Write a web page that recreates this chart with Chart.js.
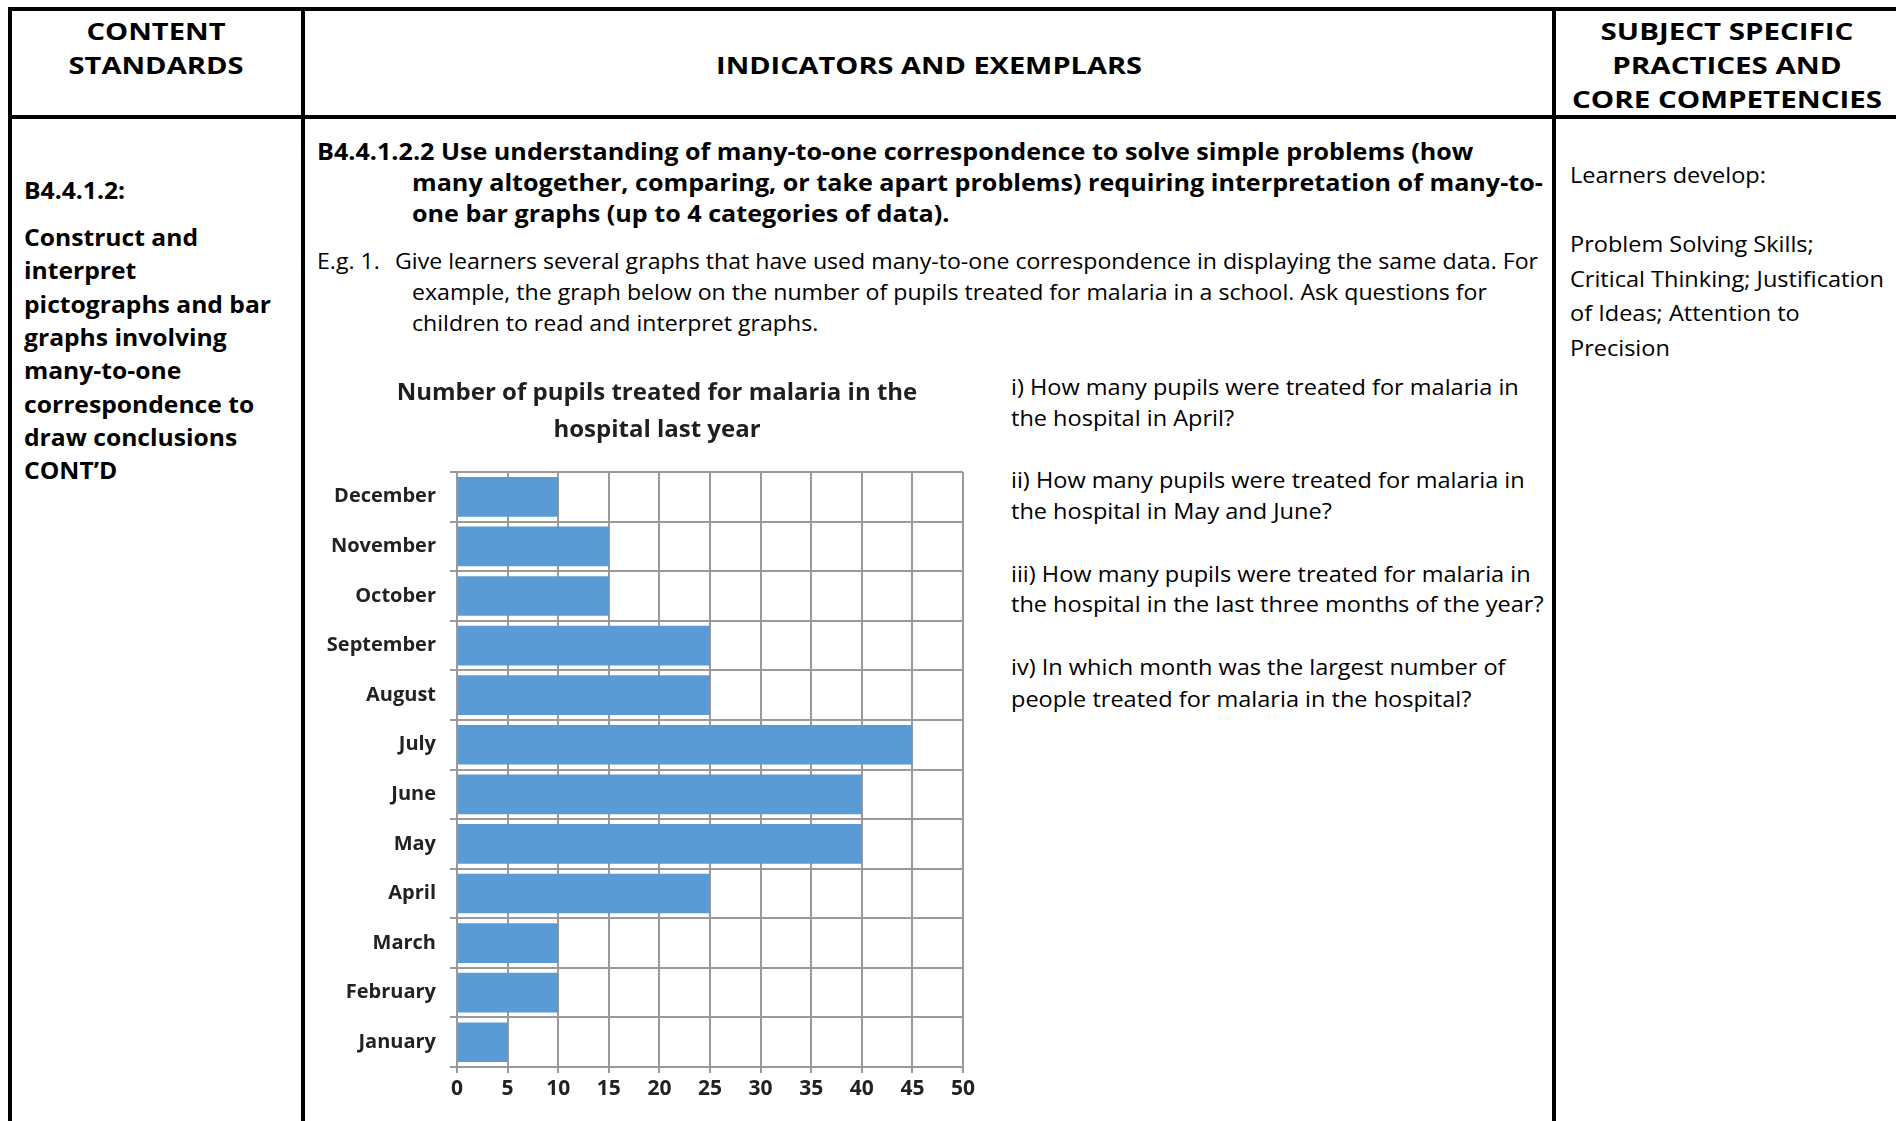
<!DOCTYPE html>
<html>
<head>
<meta charset="utf-8">
<script src="https://cdn.jsdelivr.net/npm/chart.js@4.4.1/dist/chart.umd.min.js"></script>
<style>
  body { margin: 0; width: 1896px; height: 1121px; overflow: hidden; background: #fff; position: relative; font-family: 'Open Sans', sans-serif; color: #000; }
  .rule { position: absolute; background: #000; }
  .txt { position: absolute; white-space: nowrap; line-height: 30px; height: 30px; }
  #chartBox { position: absolute; left: 315px; top: 360px; width: 684px; height: 750px; }
</style>
</head>
<body>
<div class="rule" style="left:8px;top:7px;width:1888px;height:4px"></div>
<div class="rule" style="left:8px;top:115px;width:1888px;height:4px"></div>
<div class="rule" style="left:8px;top:7px;width:4px;height:1114px"></div>
<div class="rule" style="left:301px;top:7px;width:4px;height:1114px"></div>
<div class="rule" style="left:1552px;top:7px;width:4px;height:1114px"></div>

<div id="chartBox"><canvas id="malaria"></canvas></div>

<script>
// Chart data
const months = ['January', 'February', 'March', 'April', 'May', 'June',
                'July', 'August', 'September', 'October', 'November', 'December'];
const pupilsTreated = [5, 10, 10, 25, 40, 40, 45, 25, 25, 15, 15, 10];
const chartTitle = ['Number of pupils treated for malaria in the', 'hospital last year'];
const xMin = 0;
const xMax = 50;
const xStep = 5;

// Page text: [group, weight, align, x, y, text, reference width]
const TEXT = [
  ['h1', 'b', 'c', 156, 31, 'CONTENT'],
  ['h1', 'b', 'c', 156, 65, 'STANDARDS', 175],
  ['h2', 'b', 'c', 929, 65, 'INDICATORS AND EXEMPLARS', 426],
  ['h3', 'b', 'c', 1727, 31, 'SUBJECT SPECIFIC'],
  ['h3', 'b', 'c', 1727, 65, 'PRACTICES AND'],
  ['h3', 'b', 'c', 1727, 99, 'CORE COMPETENCIES', 310],

  ['c1', 'b', 'l', 24, 190, 'B4.4.1.2:'],
  ['c1', 'b', 'l', 24, 237, 'Construct and'],
  ['c1', 'b', 'l', 24, 270, 'interpret'],
  ['c1', 'b', 'l', 24, 304, 'pictographs and bar', 247],
  ['c1', 'b', 'l', 24, 337, 'graphs involving'],
  ['c1', 'b', 'l', 24, 370, 'many-to-one'],
  ['c1', 'b', 'l', 24, 404, 'correspondence to'],
  ['c1', 'b', 'l', 24, 437, 'draw conclusions'],
  ['c1', 'b', 'l', 24, 470, 'CONT\u2019D'],

  ['hd', 'b', 'l', 317, 151, 'B4.4.1.2.2 Use understanding of many-to-one correspondence to solve simple problems (how', 1156],
  ['hd', 'b', 'l', 412, 182, 'many altogether, comparing, or take apart problems) requiring interpretation of many-to-'],
  ['hd', 'b', 'l', 412, 213, 'one bar graphs (up to 4 categories of data).'],

  ['eg', 'r', 'l', 317, 260, 'E.g. 1.'],
  ['eg', 'r', 'l', 395, 260, 'Give learners several graphs that have used many-to-one correspondence in displaying the same data. For', 1143],
  ['eg', 'r', 'l', 412, 291, 'example, the graph below on the number of pupils treated for malaria in a school. Ask questions for'],
  ['eg', 'r', 'l', 412, 322, 'children to read and interpret graphs.'],

  ['q', 'r', 'l', 1011, 386, 'i) How many pupils were treated for malaria in', 508],
  ['q', 'r', 'l', 1011, 417, 'the hospital in April?'],
  ['q', 'r', 'l', 1011, 479, 'ii) How many pupils were treated for malaria in'],
  ['q', 'r', 'l', 1011, 510, 'the hospital in May and June?'],
  ['q', 'r', 'l', 1011, 573, 'iii) How many pupils were treated for malaria in'],
  ['q', 'r', 'l', 1011, 603, 'the hospital in the last three months of the year?'],
  ['q', 'r', 'l', 1011, 666, 'iv) In which month was the largest number of'],
  ['q', 'r', 'l', 1011, 698, 'people treated for malaria in the hospital?'],

  ['c3', 'r', 'l', 1570, 174, 'Learners develop:'],
  ['c3', 'r', 'l', 1570, 243, 'Problem Solving Skills;'],
  ['c3', 'r', 'l', 1570, 278, 'Critical Thinking; Justification', 314],
  ['c3', 'r', 'l', 1570, 312, 'of Ideas; Attention to'],
  ['c3', 'r', 'l', 1570, 347, 'Precision']
];
const SIZE = { h1: 24, h2: 24, h3: 24, c1: 23, hd: 23, eg: 22, q: 22, c3: 22 };

TEXT.forEach(([g, w, a, x, y, s, ref]) => {
  const d = document.createElement('div');
  d.className = 'txt';
  d.dataset.g = g;
  d.style.fontSize = SIZE[g] + 'px';
  d.style.fontWeight = w === 'b' ? 700 : 400;
  d.style.top = (y - 15) + 'px';
  if (a === 'c') {
    d.style.left = (x - 500) + 'px';
    d.style.width = '1000px';
    d.style.textAlign = 'center';
    d.style.transformOrigin = '50% 50%';
  } else {
    d.style.left = x + 'px';
    d.style.transformOrigin = '0 50%';
  }
  const sp = document.createElement('span');
  sp.textContent = s;
  d.appendChild(sp);
  if (ref) d.dataset.ref = ref;
  document.body.appendChild(d);
});

// stretch each text group so its reference line gets the width it has in the original
document.querySelectorAll('.txt[data-ref]').forEach(d => {
  const k = d.dataset.ref / d.firstChild.getBoundingClientRect().width;
  document.querySelectorAll('.txt[data-g="' + d.dataset.g + '"]').forEach(e => {
    e.style.transform = 'scaleX(' + k.toFixed(3) + ')';
  });
});

// Chart
const gridGray = '#9a9a9a';
const labelColor = '#222';

new Chart(document.getElementById('malaria'), {
  type: 'bar',
  data: {
    labels: months,
    datasets: [{
      data: pupilsTreated,
      backgroundColor: '#5b9bd5',
      borderWidth: 0,
      barPercentage: 0.8,
      categoryPercentage: 1.0
    }]
  },
  options: {
    indexAxis: 'y',
    responsive: true,
    maintainAspectRatio: false,
    animation: false,
    layout: { padding: 0 },
    plugins: {
      legend: { display: false },
      tooltip: { enabled: false },
      title: {
        display: true,
        text: chartTitle,
        color: '#1f1f1f',
        font: { family: "'Open Sans', sans-serif", size: 24, weight: 'bold', lineHeight: 37 / 24 },
        padding: { top: 15, bottom: 23 }
      }
    },
    scales: {
      x: {
        type: 'linear',
        min: xMin,
        max: xMax,
        ticks: {
          stepSize: xStep,
          color: labelColor,
          padding: 3,
          font: { family: "'Open Sans', sans-serif", size: 21, weight: 'bold' }
        },
        grid: { color: gridGray, lineWidth: 2, tickLength: 6 },
        border: { color: gridGray, width: 2 },
        afterFit(scale) { scale.height = 43; }
      },
      y: {
        reverse: true,
        ticks: {
          color: labelColor,
          padding: 14,
          font: { family: "'Open Sans', sans-serif", size: 20, weight: 'bold' }
        },
        grid: { color: gridGray, lineWidth: 2, tickLength: 7, offset: true },
        border: { color: gridGray, width: 2 },
        afterFit(scale) { scale.width = 142; }
      },
      // empty right axis keeps the plot off the right edge so the title stays centred on the whole chart
      yRight: {
        type: 'category',
        position: 'right',
        grid: { display: false },
        border: { display: false },
        ticks: { display: false },
        afterFit(scale) { scale.width = 36; }
      }
    }
  }
});
</script>
</body>
</html>
